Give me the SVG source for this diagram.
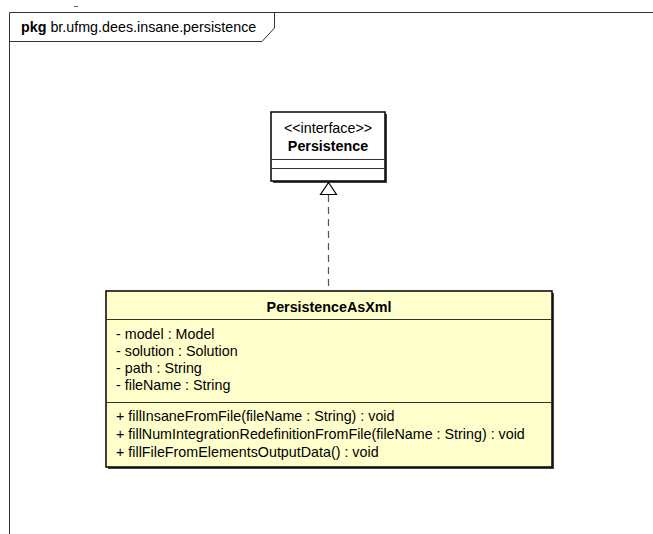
<svg xmlns="http://www.w3.org/2000/svg" width="653" height="534" viewBox="0 0 653 534">
  <style>
    text { font-family: "Liberation Sans", Arial, sans-serif; font-size: 14.3px; fill: #000; }
    .b { font-weight: bold; }
    .c { text-anchor: middle; }
    .frame { fill: none; stroke: #333; stroke-width: 1; }
    .box { stroke: #000; stroke-width: 1.5; }
    .shadow { fill: #444; }
    .sep { stroke: #333; stroke-width: 1; }
    .dep { stroke: #555; stroke-width: 1.2; stroke-dasharray: 7 5; fill: none; }
  </style>
  <rect width="653" height="534" fill="#fff"/>

  <!-- package frame -->
  <g id="pkg-frame">
    <path class="frame" d="M9.5 534 V12.5 H653"/>
    <path class="frame" d="M9.5 41.5 H262 L274.5 28 V12.5"/>
    <line x1="74" y1="6.5" x2="78" y2="6.5" stroke="#666" stroke-width="1"/>
    <text x="21" y="32"><tspan class="b">pkg</tspan> br.ufmg.dees.insane.persistence</text>
  </g>

  <!-- interface Persistence -->
  <g id="persistence">
    <rect class="shadow" x="273" y="114" width="114" height="69"/>
    <rect class="box" x="271" y="112" width="114" height="69" fill="#fff"/>
    <line class="sep" x1="271" y1="159.5" x2="385" y2="159.5"/>
    <line class="sep" x1="271" y1="168.5" x2="385" y2="168.5"/>
    <text class="c" x="328" y="133">&lt;&lt;interface&gt;&gt;</text>
    <text class="c b" x="328" y="151">Persistence</text>
  </g>

  <!-- realization -->
  <g id="connectors">
    <line class="dep" x1="328.5" y1="195" x2="328.5" y2="290"/>
    <polygon points="328.5,182.5 320.5,194.5 336.5,194.5" fill="#fff" stroke="#000" stroke-width="1.2"/>
  </g>

  <!-- class PersistenceAsXml -->
  <g id="persistence-as-xml">
    <rect class="shadow" x="108" y="293" width="446" height="176"/>
    <rect class="box" x="106" y="291" width="446" height="176" fill="#ffffcc"/>
    <line class="sep" x1="106" y1="319.5" x2="552" y2="319.5"/>
    <line class="sep" x1="106" y1="402.5" x2="552" y2="402.5"/>
    <text class="c b" x="329" y="312">PersistenceAsXml</text>
    <text x="116" y="339">- model : Model</text>
    <text x="116" y="356">- solution : Solution</text>
    <text x="116" y="373">- path : String</text>
    <text x="116" y="390">- fileName : String</text>
    <text x="116" y="421">+ fillInsaneFromFile(fileName : String) : void</text>
    <text x="116" y="439">+ fillNumIntegrationRedefinitionFromFile(fileName : String) : void</text>
    <text x="116" y="457">+ fillFileFromElementsOutputData() : void</text>
  </g>
</svg>
